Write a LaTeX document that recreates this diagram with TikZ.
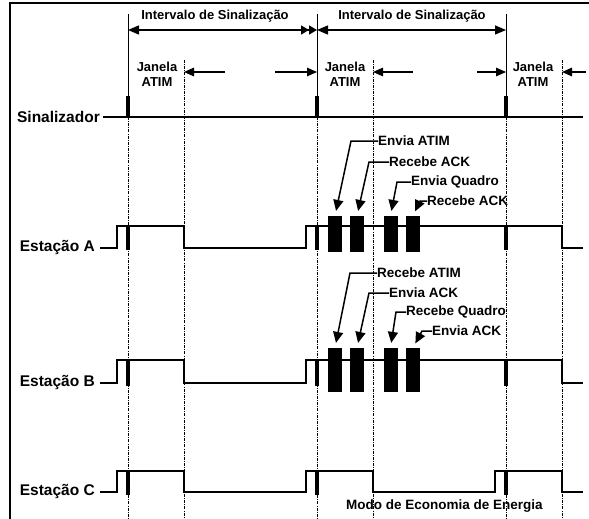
\documentclass[tikz,border=0pt]{standalone}
\usepackage{fontspec}
\setmainfont{Liberation Sans}
\usetikzlibrary{arrows.meta,positioning,calc}
\definecolor{Ink}{HTML}{000000}

\begin{document}
\begin{tikzpicture}[x=1pt,y=-1pt,
  lbl/.style={font=\bfseries\fontsize{13}{15}\selectfont,inner sep=0pt},
  note/.style={font=\bfseries\fontsize{13.5}{15}\selectfont,inner sep=0pt,anchor=west},
  rowlbl/.style={font=\bfseries\fontsize{15.5}{17}\selectfont,anchor=east,inner sep=0pt},
  wave/.style={Ink,line width=1.3pt},
  guide/.style={Ink,line width=0.5pt,dash pattern=on 3pt off 1.2pt on 0.8pt off 1.2pt},
  bmark/.style={fill=Ink,draw=none},
  frm/.style={fill=Ink,inner sep=0pt,minimum width=14pt},
  ann/.style={Ink,line width=1.5pt,-{Triangle[length=11pt,width=10pt]}},
  gap/.style={Ink,line width=1.4pt,-{Triangle[length=10pt,width=8.5pt]}}]
\useasboundingbox (0,0) rectangle (589,519);
% frame
\draw[Ink,line width=1.4pt] (10,519) -- (10,3) -- (589,3);
% beacon times and ATIM window ends
\foreach \b/\w in {128/184,317/373,506/562} {
  \draw[Ink,line width=1pt] (\b,14) -- (\b,117);
  \draw[guide] (\b,117) -- (\b,519);
  \draw[guide] (\w,60) -- (\w,519);
}
% beacon interval
\coordinate (b1) at (128,30);
\coordinate (b2) at (317,30);
\coordinate (b3) at (506,30);
\draw[Ink,line width=1.5pt,{Triangle[length=11pt,width=9pt]}-{Triangle[length=8pt,width=9pt]Triangle[length=8pt,width=9pt]}] (b1) -- (b2);
\draw[Ink,line width=1.5pt,{Triangle[length=11pt,width=9pt]}-{Triangle[length=11pt,width=9pt]}] (b2) -- (b3);
\node[lbl] (int1) at (215,16) {Intervalo de Sinalização};
\node[lbl] (int2) at (412,16) {Intervalo de Sinalização};
% ATIM windows
\foreach \n/\x in {1/157,2/345,3/533}
  \node[lbl,align=center] (jan\n) at (\x,74) {Janela\\ATIM};
\draw[gap] (225,72) -- (184,72);
\draw[gap] (275,72) -- (317,72);
\draw[gap] (413,72) -- (373,72);
\draw[gap] (477,72) -- (506,72);
\draw[gap] (586,72) -- (562,72);
% rows
\node[rowlbl] (sinal) at (100,117) {Sinalizador};
\draw[Ink,line width=1.4pt] (103,117) -- (583,117);
\node[rowlbl] (estA) at (95,248) {Estação A};
\node[rowlbl] (estB) at (95,383) {Estação B};
\node[rowlbl] (estC) at (95,492) {Estação C};
\draw[wave] (100,248) -- (117,248) -- (117,226) -- (184,226) -- (184,248) -- (306,248) -- (306,226) -- (562,226) -- (562,248) -- (583,248);
\draw[wave] (100,383) -- (117,383) -- (117,360) -- (184,360) -- (184,383) -- (306,383) -- (306,360) -- (562,360) -- (562,383) -- (583,383);
\draw[wave] (100,492) -- (117,492) -- (117,471) -- (184,471) -- (184,492) -- (306,492) -- (306,471) -- (373,471) -- (373,492) -- (495,492) -- (495,471) -- (562,471) -- (562,492) -- (583,492);
\foreach \b in {128,317,506} {
  \fill[bmark] (\b-2,96) rectangle (\b+2,117);
  \fill[bmark] (\b-2,226) rectangle (\b+2,250);
  \fill[bmark] (\b-2,360) rectangle (\b+2,386);
  \fill[bmark] (\b-2,471) rectangle (\b+2,495);
}
% frames sent and received
\foreach \n/\x in {1/335,2/357,3/390.5,4/413} {
  \node[frm,minimum height=36pt] (fA\n) at (\x,234) {};
  \node[frm,minimum height=44pt] (fB\n) at (\x,370) {};
}
\node[note] (eA1) at (378,141) {Envia ATIM};
\node[note] (eA2) at (389,162) {Recebe ACK};
\node[note] (eA3) at (411,182) {Envia Quadro};
\node[note] (eA4) at (427,201) {Recebe ACK};
\draw[ann,shorten >=5pt] (eA1.west) -- ++(-27,0) -- (fA1.north);
\draw[ann,shorten >=5pt] (eA2.west) -- ++(-20,0) -- (fA2.north);
\draw[ann,shorten >=5pt] (eA3.west) -- ++(-14,0) -- (fA3.north);
\draw[ann,shorten >=5pt] (eA4.west) -- ++(-7,0) -- (fA4.north);
\node[note] (eB1) at (377,273) {Recebe ATIM};
\node[note] (eB2) at (389,293) {Envia ACK};
\node[note] (eB3) at (406,312) {Recebe Quadro};
\node[note] (eB4) at (432,331) {Envia ACK};
\draw[ann,shorten >=5pt] (eB1.west) -- ++(-27,0) -- (fB1.north);
\draw[ann,shorten >=5pt] (eB2.west) -- ++(-20,0) -- (fB2.north);
\draw[ann,shorten >=5pt] (eB3.west) -- ++(-10,0) -- (fB3.north);
\draw[ann,shorten >=5pt] (eB4.west) -- ++(-10,0) -- (fB4.north);
\node[note] (modo) at (346,506) {Modo de Economia de Energia};
\end{tikzpicture}
\end{document}
